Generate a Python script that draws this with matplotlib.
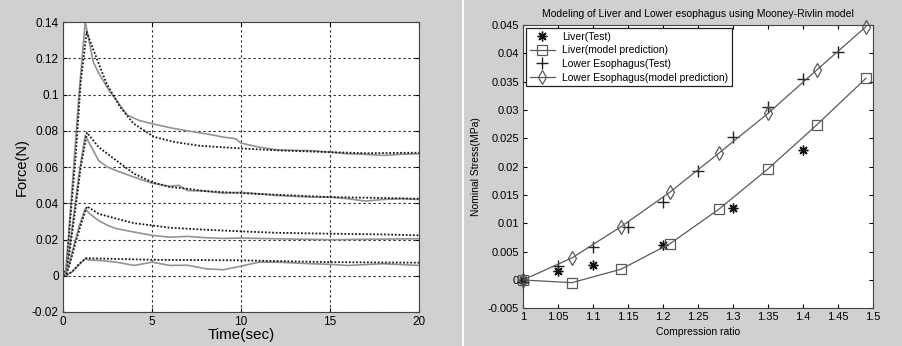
import matplotlib
matplotlib.use("Agg")
import matplotlib.pyplot as plt
from matplotlib.lines import Line2D
from matplotlib.ticker import FuncFormatter

plt.rcParams["font.family"] = ["Liberation Sans", "DejaVu Sans"]

# ---- left panel: force relaxation, measured (solid) vs model (dotted) ----
t_s1 = [0, 0.15, 0.3, 0.6, 0.9, 1.25, 1.5, 1.7, 2.0, 2.3, 2.6, 3.0, 3.6, 4.3, 5.1, 6.2, 7.3, 8.4, 9.0, 9.7, 10, 11, 12, 13, 14, 15, 16, 17, 18, 19, 20]
f_s1 = [0, 0.003, 0.02, 0.06, 0.10, 0.140, 0.128, 0.118, 0.112, 0.107, 0.102, 0.097, 0.0887, 0.0856, 0.0837, 0.0813, 0.0795, 0.0777, 0.0765, 0.0756, 0.0732, 0.071, 0.0695, 0.0692, 0.069, 0.0682, 0.0673, 0.067, 0.0664, 0.067, 0.0673]
t_d1 = [0, 0.2, 0.4, 0.7, 1.0, 1.33, 2.0, 2.45, 3.2, 3.95, 5.1, 6.2, 7.7, 9.9, 12, 15, 17, 20]
f_d1 = [0, 0.004, 0.03, 0.064, 0.107, 0.1346, 0.1172, 0.106, 0.0933, 0.0841, 0.0767, 0.0739, 0.0717, 0.0703, 0.0692, 0.0682, 0.0676, 0.0679]

t_s2 = [0, 0.15, 0.3, 0.6, 0.9, 1.25, 1.5, 2.0, 2.5, 3.0, 4.0, 5.0, 6.0, 6.5, 7.0, 8.0, 9.0, 10, 11, 12, 14, 15, 16, 17, 18, 19, 20]
f_s2 = [0, 0.002, 0.011, 0.033, 0.056, 0.0775, 0.0728, 0.0636, 0.060, 0.058, 0.0544, 0.0511, 0.0493, 0.0499, 0.047, 0.0467, 0.0456, 0.046, 0.0452, 0.0443, 0.0434, 0.0434, 0.0425, 0.0412, 0.0421, 0.0425, 0.0421]
t_d2 = [0, 0.2, 0.4, 0.7, 1.0, 1.35, 2.0, 3.0, 4.0, 5.0, 6.0, 7.0, 8.0, 10, 12, 15, 18, 20]
f_d2 = [0, 0.002, 0.015, 0.037, 0.060, 0.079, 0.071, 0.0636, 0.0563, 0.0517, 0.049, 0.048, 0.0467, 0.0456, 0.0447, 0.0434, 0.0429, 0.0425]

t_s3 = [0, 0.15, 0.3, 0.6, 0.9, 1.25, 1.5, 2.0, 2.5, 3.0, 4.0, 5.0, 6.0, 7.0, 8.0, 9.0, 10, 12, 15, 17, 20]
f_s3 = [0, 0.001, 0.005, 0.016, 0.027, 0.037, 0.0342, 0.0305, 0.0278, 0.026, 0.0241, 0.0223, 0.0213, 0.0217, 0.021, 0.0206, 0.0208, 0.0204, 0.0199, 0.0201, 0.0204]
t_d3 = [0, 0.2, 0.4, 0.7, 1.0, 1.35, 2.0, 3.0, 4.0, 5.0, 6.0, 8.0, 10, 12, 15, 18, 20]
f_d3 = [0, 0.001, 0.007, 0.018, 0.028, 0.0383, 0.0342, 0.0315, 0.029, 0.0278, 0.0265, 0.0254, 0.0245, 0.0237, 0.0232, 0.0228, 0.0223]

t_s4 = [0, 0.2, 0.5, 0.8, 1.1, 1.25, 1.5, 2.0, 3.0, 4.0, 5.0, 6.0, 7.0, 8.0, 9.0, 10, 11, 12, 14, 15, 16, 18, 20]
f_s4 = [0, 0.0005, 0.002, 0.005, 0.008, 0.0094, 0.0086, 0.0085, 0.0075, 0.0057, 0.0075, 0.0057, 0.0058, 0.0039, 0.0033, 0.0053, 0.0075, 0.0075, 0.0066, 0.0063, 0.0057, 0.0066, 0.0057]
t_d4 = [0, 0.3, 0.6, 0.9, 1.3, 5.0, 10, 15, 20]
f_d4 = [0, 0.0008, 0.003, 0.0065, 0.0097, 0.0088, 0.0085, 0.0075, 0.0072]

# ---- right panel: Mooney-Rivlin fit ----
liver_test_x = [1.0, 1.05, 1.1, 1.2, 1.3, 1.4]
liver_test_y = [0.0, 0.0015, 0.0026, 0.0062, 0.0127, 0.0229]
liver_model_x = [1.0, 1.07, 1.14, 1.21, 1.28, 1.35, 1.42, 1.49]
liver_model_y = [0.0, -0.00047, 0.0019, 0.0064, 0.0125, 0.0196, 0.0274, 0.0356]
eso_test_x = [1.0, 1.05, 1.1, 1.15, 1.2, 1.25, 1.3, 1.35, 1.4, 1.45]
eso_test_y = [-0.0004, 0.0025, 0.0059, 0.0094, 0.0137, 0.0193, 0.0252, 0.0305, 0.0355, 0.0402]
eso_model_x = [1.0, 1.07, 1.14, 1.21, 1.28, 1.35, 1.42, 1.49]
eso_model_y = [0.0, 0.0039, 0.0094, 0.0155, 0.0224, 0.0294, 0.0371, 0.0447]

BG = "#d0d0d0"
fig = plt.figure(figsize=(9.02, 3.46), dpi=100, facecolor=BG)
fig.add_artist(Line2D([0.5133, 0.5133], [0, 1], color="white", lw=1.5))

grid_kw = dict(color="#222222", ls=(0, (2, 2.5)), lw=0.8)
gfmt = FuncFormatter(lambda v, p: f"{v:g}")

# left
ax = fig.add_axes([0.0698, 0.0983, 0.3947, 0.838])
solid_kw = dict(color="#929292", lw=1.2)
dot_kw = dict(color="#1a1a1a", lw=1.3, ls=(0, (1, 1)))
for ts, fs, td, fd in [(t_s1, f_s1, t_d1, f_d1), (t_s2, f_s2, t_d2, f_d2),
                       (t_s3, f_s3, t_d3, f_d3), (t_s4, f_s4, t_d4, f_d4)]:
    ax.plot(ts, fs, **solid_kw)
    ax.plot(td, fd, **dot_kw)
ax.set_xlim(0, 20)
ax.set_ylim(-0.02, 0.14)
ax.set_xticks([0, 5, 10, 15, 20])
ax.set_yticks([-0.02, 0, 0.02, 0.04, 0.06, 0.08, 0.1, 0.12, 0.14])
ax.yaxis.set_major_formatter(gfmt)
ax.grid(True, **grid_kw)
ax.tick_params(direction="in", labelsize=8.5, length=3, pad=3, top=True, right=True)
ax.set_xlabel("Time(sec)", fontsize=11, labelpad=0)
ax.set_ylabel("Force(N)", fontsize=10.5, labelpad=2)
for s in ax.spines.values():
    s.set_color("#444444")

# right
ax2 = fig.add_axes([0.5798, 0.1089, 0.388, 0.8188])
lc = "#5a5a5a"
ax2.plot(liver_test_x, liver_test_y, ls="none", marker=(8, 2, 0), ms=7, mew=1.0,
         color="#111111", label="Liver(Test)", clip_on=False)
ax2.plot(liver_model_x, liver_model_y, color=lc, lw=0.9, marker="s", ms=6.5,
         mfc="none", mec=lc, mew=0.9, label="Liver(model prediction)", clip_on=False)
ax2.plot(eso_test_x, eso_test_y, ls="none", marker="+", ms=8, mew=1.0,
         color="#222222", label="Lower Esophagus(Test)", clip_on=False)
ax2.plot(eso_model_x, eso_model_y, color=lc, lw=0.9, marker="d", ms=7,
         mfc="none", mec=lc, mew=0.9, label="Lower Esophagus(model prediction)", clip_on=False)
ax2.set_xlim(1, 1.5)
ax2.set_ylim(-0.005, 0.045)
ax2.set_xticks([1, 1.05, 1.1, 1.15, 1.2, 1.25, 1.3, 1.35, 1.4, 1.45, 1.5])
ax2.set_yticks([-0.005, 0, 0.005, 0.01, 0.015, 0.02, 0.025, 0.03, 0.035, 0.04, 0.045])
ax2.xaxis.set_major_formatter(gfmt)
ax2.yaxis.set_major_formatter(gfmt)
ax2.tick_params(direction="in", labelsize=8, length=3, pad=3, top=True, right=True)
ax2.set_xlabel("Compression ratio", fontsize=7.5, labelpad=3)
ax2.set_ylabel("Nominal Stress(MPa)", fontsize=7.5, labelpad=5)
ax2.set_title("Modeling of Liver and Lower esophagus using Mooney-Rivlin model",
              fontsize=7.5, pad=6)
for s in ax2.spines.values():
    s.set_color("#444444")
leg = ax2.legend(loc="upper left", fontsize=7.5, frameon=True, fancybox=False,
                 edgecolor="#222222", framealpha=1, borderaxespad=0.3,
                 handlelength=2.4, labelspacing=0.35, borderpad=0.35, handletextpad=0.7)
leg.get_frame().set_linewidth(0.9)

fig.savefig("out.png", dpi=100, facecolor=BG)
